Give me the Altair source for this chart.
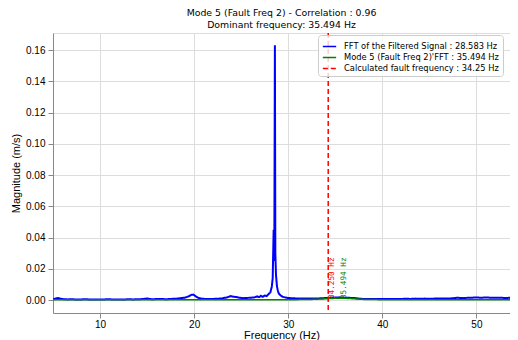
import altair as alt
import pandas as pd

# ---- data ----
series_labels = [
    "FFT of the Filtered Signal : 28.583 Hz",
    "Mode 5 (Fault Freq 2)'FFT : 35.494 Hz",
    "Calculated fault frequency : 34.25 Hz",
]
series_colors = ["blue", "green", "red"]

blue_freq = [5.0, 5.5, 6.0, 6.5, 7.0, 7.5, 8.0, 8.5, 9.0, 9.5, 10.0, 10.5, 11.0, 11.5,
             12.0, 12.5, 13.0, 13.5, 14.0, 14.5, 15.0, 15.5, 16.0, 16.5, 17.0, 17.5,
             18.0, 18.5, 19.0, 19.4, 19.7, 19.9, 20.1, 20.4, 20.8, 21.2, 21.6, 22.0,
             22.5, 23.0, 23.5, 23.9, 24.2, 24.5, 24.8, 25.2, 25.6, 26.0, 26.4, 26.7,
             26.9, 27.1, 27.3, 27.5, 27.7, 27.9, 28.1, 28.25, 28.35, 28.45, 28.52,
             28.583, 28.63, 28.7, 28.8, 28.9, 29.0, 29.2, 29.4, 29.7, 30.0, 30.5,
             31.0, 31.5, 32.0, 32.5, 33.0, 33.5, 34.0, 34.5, 35.0, 35.5, 36.0, 36.5,
             37.0, 37.5, 38.0, 38.5, 39.0, 39.5, 40.0, 40.5, 41.0, 41.5, 42.0, 42.5,
             43.0, 43.5, 44.0, 44.5, 45.0, 45.5, 46.0, 46.5, 47.0, 47.5, 48.0, 48.3,
             48.6, 49.0, 49.5, 50.0, 50.5, 51.0, 51.5, 52.0, 52.5, 53.0, 53.5, 54.0, 54.5]
blue_mag = [0.0006, 0.0014, 0.0007, 0.0005, 0.0006, 0.0004, 0.0005, 0.0006, 0.0004, 0.0005,
            0.0004, 0.0005, 0.0006, 0.0004, 0.0005, 0.0004, 0.0006, 0.0005, 0.0006, 0.0007,
            0.0011, 0.0006, 0.0007, 0.0008, 0.0006, 0.0008, 0.0009, 0.0012, 0.0016, 0.0024,
            0.0034, 0.0036, 0.0028, 0.0016, 0.0010, 0.0008, 0.0007, 0.0008, 0.0009, 0.0012,
            0.0018, 0.0026, 0.0022, 0.0020, 0.0016, 0.0013, 0.0014, 0.0016, 0.0018, 0.0024,
            0.0019, 0.0028, 0.0021, 0.0030, 0.0026, 0.0038, 0.0050, 0.0085, 0.0140, 0.0450,
            0.0250, 0.1630, 0.0300, 0.0160, 0.0090, 0.0060, 0.0042, 0.0030, 0.0022, 0.0017,
            0.0014, 0.0012, 0.0011, 0.0010, 0.0011, 0.0010, 0.0011, 0.0012, 0.0014, 0.0016,
            0.0017, 0.0018, 0.0016, 0.0015, 0.0014, 0.0010, 0.0008, 0.0007, 0.0008, 0.0007,
            0.0008, 0.0007, 0.0008, 0.0007, 0.0008, 0.0009, 0.0008, 0.0010, 0.0009, 0.0010,
            0.0009, 0.0010, 0.0011, 0.0010, 0.0011, 0.0012, 0.0016, 0.0014, 0.0013, 0.0015,
            0.0016, 0.0017, 0.0016, 0.0017, 0.0016, 0.0015, 0.0016, 0.0014, 0.0015, 0.0013,
            0.0012]

green_freq = [5.0, 10.0, 15.0, 20.0, 25.0, 28.0, 30.0, 32.0, 33.0, 34.0, 35.0, 35.494,
              36.0, 37.0, 38.0, 40.0, 45.0, 50.0, 54.5]
green_mag = [0.0002, 0.0002, 0.0002, 0.0002, 0.0002, 0.0003, 0.0003, 0.0004, 0.0006,
             0.0009, 0.0012, 0.0013, 0.0012, 0.0009, 0.0005, 0.0003, 0.0002, 0.0002, 0.0002]

fault_freq = 34.25
dominant_freq = 35.494
annot_texts = ["34.250 Hz", "35.494 Hz"]
annot_y = 0.0007

x_ticks = [10, 20, 30, 40, 50]
y_ticks = [0.0, 0.02, 0.04, 0.06, 0.08, 0.10, 0.12, 0.14, 0.16]

title_lines = ["Mode 5 (Fault Freq 2) - Correlation : 0.96", "Dominant frequency: 35.494 Hz"]

# ---- frames ----
df_blue = pd.DataFrame({"f": blue_freq, "m": blue_mag, "s": series_labels[0]})
df_green = pd.DataFrame({"f": green_freq, "m": green_mag, "s": series_labels[1]})
df_rule = pd.DataFrame({"f": [fault_freq], "s": [series_labels[2]]})
df_red_txt = pd.DataFrame({"f": [fault_freq], "m": [annot_y], "t": [annot_texts[0]]})
df_green_txt = pd.DataFrame({"f": [dominant_freq], "m": [annot_y], "t": [annot_texts[1]]})

FONT = "DejaVu Sans"
TICK_FS = 7.8
AXT_FS = 8.0
LEG_FS = 8.3

xscale = alt.Scale(domain=[5.0, 53.57], nice=False, zero=False)
yscale = alt.Scale(domain=[-0.0082, 0.1709], nice=False, zero=False)

xenc = alt.X("f:Q", scale=xscale, title="Frequency (Hz)",
             axis=alt.Axis(values=x_ticks, format="d", titleFontWeight="normal",
                           labelPadding=1, titleBaseline="alphabetic", titleY=25))
yenc = alt.Y("m:Q", scale=yscale, title="Magnitude (m/s)",
             axis=alt.Axis(values=y_ticks, format=".2f", titleFontWeight="normal",
                           labelPadding=3, titlePadding=4))

legend = alt.Legend(
    title=None, orient="none", legendX=265, legendY=2, symbolType="stroke", symbolSize=178,
    symbolStrokeWidth=1.6, labelFont=FONT, labelFontSize=LEG_FS, labelColor="black",
    fillColor="rgba(255,255,255,0.8)", strokeColor="#cccccc", cornerRadius=3,
    padding=4, rowPadding=0, labelLimit=400, labelOffset=7,
)
color = alt.Color("s:N", scale=alt.Scale(domain=series_labels, range=series_colors), legend=legend)
dash = alt.StrokeDash("s:N", scale=alt.Scale(domain=series_labels, range=[[1, 0], [1, 0], [5, 3]]),
                      legend=legend)

blue = alt.Chart(df_blue).mark_line(strokeWidth=2, clip=True).encode(
    x=xenc, y=yenc, color=color, strokeDash=dash)
green = alt.Chart(df_green).mark_line(strokeWidth=1.5, clip=True).encode(
    x=xenc, y=yenc, color=color, strokeDash=dash)
rule = alt.Chart(df_rule).mark_rule(strokeWidth=1.5, clip=True).encode(
    x=xenc, color=color, strokeDash=dash)
red_txt = alt.Chart(df_red_txt).mark_text(
    angle=270, align="left", baseline="top", font="DejaVu Sans Mono",
    fontSize=7.7, color="red").encode(x=xenc, y=yenc, text="t:N")
green_txt = alt.Chart(df_green_txt).mark_text(
    angle=270, align="left", baseline="top", font="DejaVu Sans Mono",
    fontSize=7.7, color="green").encode(x=xenc, y=yenc, text="t:N")

chart = alt.layer(blue, green, rule, red_txt, green_txt).properties(
    width=457, height=280,
    title=alt.TitleParams(text=title_lines, fontSize=9.35, font=FONT, fontWeight="normal",
                          color="black", anchor="middle", offset=3, lineHeight=12),
    autosize=alt.AutoSizeParams(type="none"),
    padding={"left": 45, "top": 25, "right": 0, "bottom": 27},
).configure_view(stroke="black", strokeWidth=1).configure_axis(
    domainColor="black", domainWidth=1, tickColor="black", tickSize=3, tickWidth=0.8,
    gridColor="#dddddd", gridWidth=0.8, labelFont=FONT, labelFontSize=TICK_FS,
    labelColor="black", titleFont=FONT, titleFontSize=AXT_FS, titleFontWeight="normal",
    titleColor="black",
).configure(background="white")

chart.save("out.html", embed_options={"renderer": "svg", "actions": False})
